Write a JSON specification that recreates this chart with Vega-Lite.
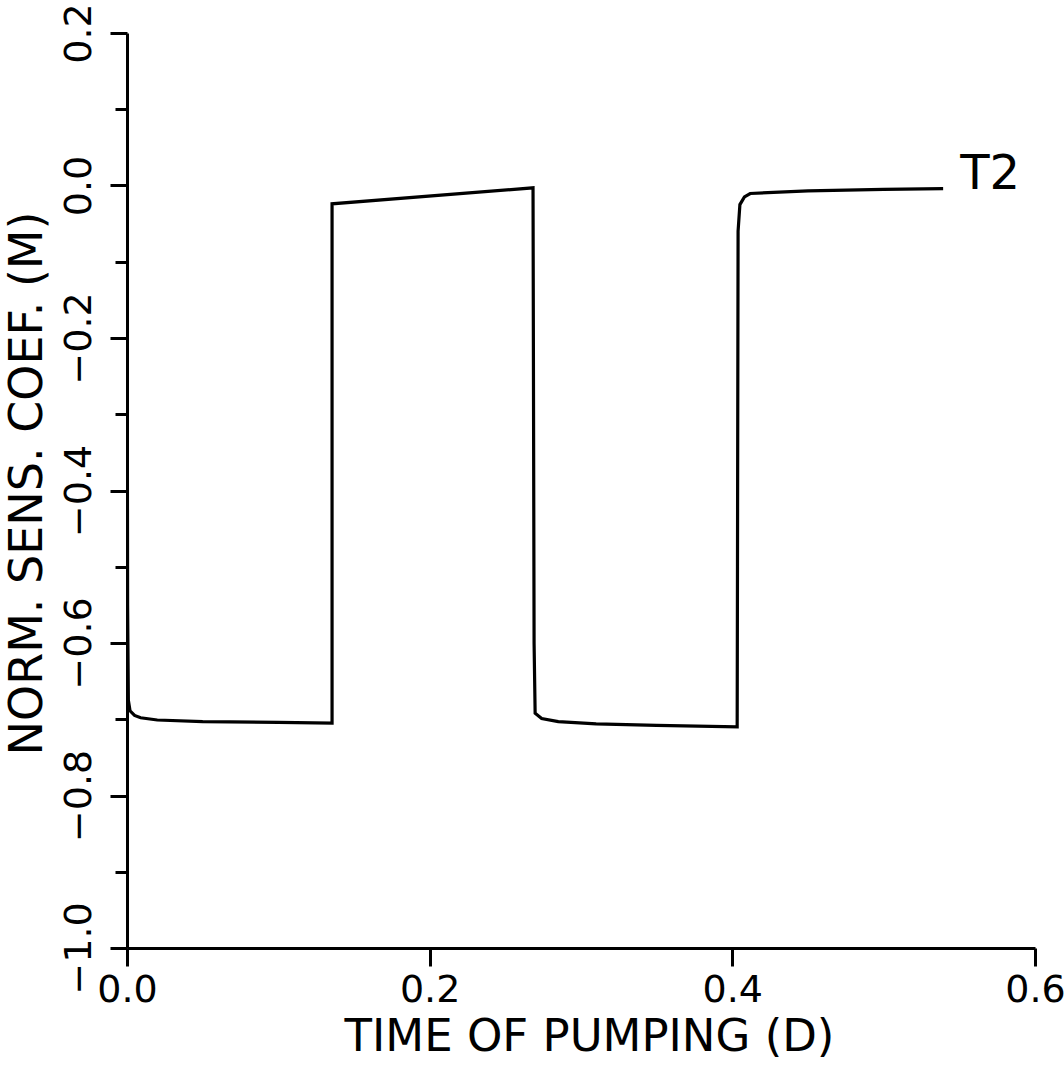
{
  "$schema": "https://vega.github.io/schema/vega-lite/v6.json",
  "autosize": "none",
  "padding": {"left": 127, "top": 33, "right": 29, "bottom": 124},
  "width": 908,
  "height": 915,
  "background": "white",
  "config": {
    "view": {"stroke": null},
    "font": "DejaVu Sans",
    "axis": {"grid": false, "domainColor": "black", "domainWidth": 3, "tickColor": "black", "tickWidth": 3, "labelColor": "black", "titleColor": "black", "labelFont": "DejaVu Sans", "titleFont": "DejaVu Sans", "labelFontWeight": "normal", "titleFontWeight": "normal"}
  },
  "datasets": {
    "curve": [
      {"t": 0.0, "s": 0.0},
      {"t": 0.0004, "s": -0.55},
      {"t": 0.0009, "s": -0.675},
      {"t": 0.002, "s": -0.689},
      {"t": 0.005, "s": -0.695},
      {"t": 0.009, "s": -0.698},
      {"t": 0.02, "s": -0.701},
      {"t": 0.05, "s": -0.703},
      {"t": 0.1, "s": -0.704},
      {"t": 0.1355, "s": -0.705},
      {"t": 0.1355, "s": -0.024},
      {"t": 0.2683, "s": -0.003},
      {"t": 0.2690, "s": -0.6},
      {"t": 0.2697, "s": -0.692},
      {"t": 0.274, "s": -0.699},
      {"t": 0.285, "s": -0.703},
      {"t": 0.31, "s": -0.706},
      {"t": 0.35, "s": -0.708},
      {"t": 0.4032, "s": -0.71},
      {"t": 0.4034, "s": -0.5},
      {"t": 0.4038, "s": -0.06},
      {"t": 0.405, "s": -0.025},
      {"t": 0.408, "s": -0.015},
      {"t": 0.4118, "s": -0.0105},
      {"t": 0.45, "s": -0.007},
      {"t": 0.5, "s": -0.005},
      {"t": 0.5393, "s": -0.004}
    ],
    "lbl": [{"t": 0.5506, "s": 0.014, "name": "T2"}]
  },
  "layer": [
    {
      "data": {"name": "curve"},
      "mark": {"type": "line", "color": "black", "strokeWidth": 3.2, "clip": true},
      "encoding": {
        "x": {"field": "t", "type": "quantitative", "scale": {"domain": [0, 0.6], "nice": false, "zero": false},
          "axis": {"values": [0, 0.2, 0.4, 0.6], "format": ".1f", "tickSize": 18, "labelFontSize": 38, "labelPadding": 5, "labelDx": -11, "labelFlush": false, "labelOverlap": false,
            "title": "TIME OF PUMPING (D)", "titleFontSize": 45, "titlePadding": 5, "titleX": 462}},
        "y": {"field": "s", "type": "quantitative", "scale": {"domain": [-1.0, 0.2], "nice": false, "zero": false},
          "axis": {"values": [-1.0, -0.9, -0.8, -0.7, -0.6, -0.5, -0.4, -0.3, -0.2, -0.1, 0.0, 0.1, 0.2],
            "labelExpr": "abs(round(datum.value*10)) % 2 == 0 ? format(datum.value, '.1f') : ''",
            "tickSize": {"condition": {"test": "abs(round(datum.value*10)) % 2 == 0", "value": 17}, "value": 12},
            "labelAngle": -90, "labelAlign": "center", "labelBaseline": "alphabetic", "labelFontSize": 38, "labelPadding": 20, "labelFlush": false, "labelOverlap": false,
            "title": "NORM. SENS. COEF. (M)", "titleFontSize": 46, "titlePadding": 9, "titleY": 450}}
      }
    },
    {
      "data": {"name": "lbl"},
      "mark": {"type": "text", "align": "left", "baseline": "middle", "fontSize": 48, "font": "DejaVu Sans", "color": "black"},
      "encoding": {
        "x": {"field": "t", "type": "quantitative"},
        "y": {"field": "s", "type": "quantitative"},
        "text": {"field": "name"}
      }
    }
  ]
}
